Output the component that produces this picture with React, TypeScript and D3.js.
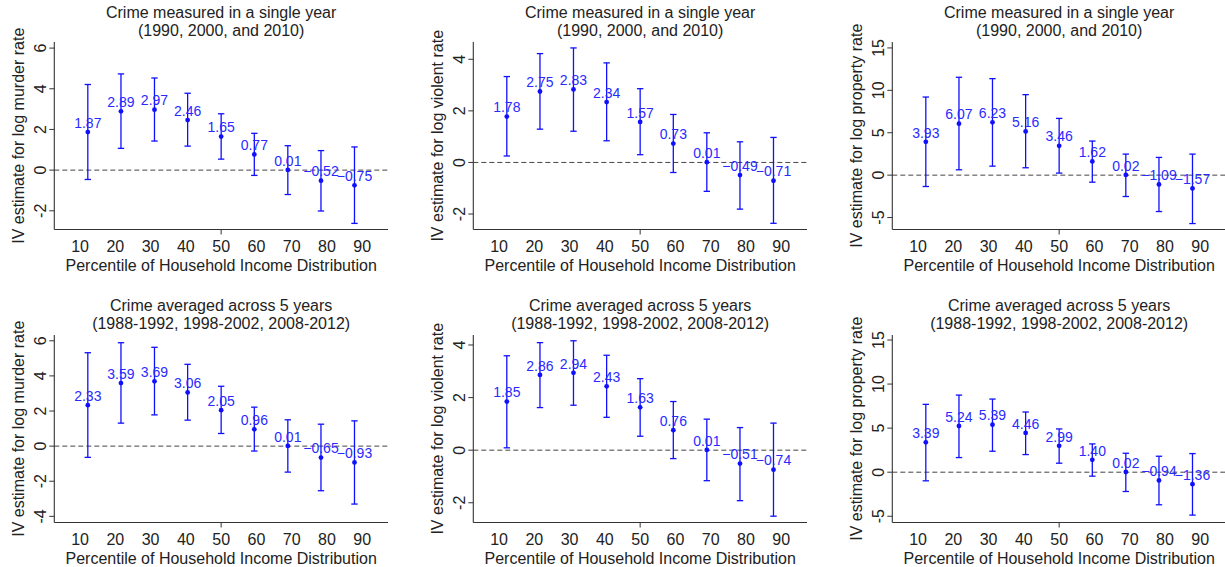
import React from "react";
import * as d3 from "d3";

// x positions of the nine estimates (percentile scale) and tick labels
const percentileTicks = [10, 20, 30, 40, 50, 60, 70, 80, 90];
const xPositions = [12.2, 21.6, 31.1, 40.5, 50, 59.4, 68.9, 78.3, 87.8];

// Row 1: crime measured in a single year
const murderSingleEst = [1.87, 2.89, 2.97, 2.46, 1.65, 0.77, 0.01, -0.52, -0.75];
const murderSingleLo = [-0.46, 1.07, 1.43, 1.18, 0.54, -0.26, -1.2, -2.01, -2.62];
const murderSingleHi = [4.21, 4.73, 4.53, 3.78, 2.77, 1.81, 1.2, 0.96, 1.14];

const violentSingleEst = [1.78, 2.75, 2.83, 2.34, 1.57, 0.73, 0.01, -0.49, -0.71];
const violentSingleLo = [0.25, 1.29, 1.21, 0.84, 0.3, -0.39, -1.12, -1.81, -2.36];
const violentSingleHi = [3.33, 4.22, 4.44, 3.86, 2.86, 1.86, 1.15, 0.8, 0.97];

const propertySingleEst = [3.93, 6.07, 6.23, 5.16, 3.46, 1.62, 0.02, -1.09, -1.57];
const propertySingleLo = [-1.34, 0.63, 1.06, 0.87, 0.24, -0.83, -2.52, -4.29, -5.71];
const propertySingleHi = [9.21, 11.54, 11.38, 9.49, 6.69, 4.02, 2.48, 2.09, 2.48];

// Row 2: crime averaged across 5 years
const murderAvgEst = [2.33, 3.59, 3.69, 3.06, 2.05, 0.96, 0.01, -0.65, -0.93];
const murderAvgLo = [-0.64, 1.31, 1.78, 1.48, 0.72, -0.28, -1.48, -2.54, -3.3];
const murderAvgHi = [5.32, 5.89, 5.63, 4.66, 3.41, 2.22, 1.5, 1.25, 1.44];

const violentAvgEst = [1.85, 2.86, 2.94, 2.43, 1.63, 0.76, 0.01, -0.51, -0.74];
const violentAvgLo = [0.09, 1.62, 1.71, 1.25, 0.53, -0.32, -1.16, -1.92, -2.51];
const violentAvgHi = [3.59, 4.09, 4.16, 3.61, 2.72, 1.85, 1.18, 0.86, 1.03];

const propertyAvgEst = [3.39, 5.24, 5.39, 4.46, 2.99, 1.4, 0.02, -0.94, -1.36];
const propertyAvgLo = [-0.98, 1.66, 2.38, 2.0, 1.02, -0.45, -2.19, -3.7, -4.87];
const propertyAvgHi = [7.7, 8.75, 8.3, 6.83, 4.91, 3.21, 2.15, 1.81, 2.11];

const titleSingle = ["Crime measured in a single year", "(1990, 2000, and 2010)"];
const titleAvg = ["Crime averaged across 5 years", "(1988-1992, 1998-2002, 2008-2012)"];
const xTitle = "Percentile of Household Income Distribution";

const ticksSmall = [-2, 0, 2, 4, 6];
const ticksViolent = [-2, 0, 2, 4];
const ticksProperty = [-5, 0, 5, 10, 15];
const ticksMurderAvg = [-4, -2, 0, 2, 4, 6];

const FONT = "'Liberation Sans', Arial, Helvetica, sans-serif";
const BLUE = "#1010ff";
const LABEL_BLUE = "#2a2aff";
const AXIS = "#333";

const PLOT_W = 333.7;
const PLOT_H = 187.5;

type PanelProps = {
  left: number;
  top: number;
  yDomain: [number, number];
  yTicks: number[];
  yLabel: string;
  title: string[];
  est: number[];
  lo: number[];
  hi: number[];
};

function Panel({ left, top, yDomain, yTicks, yLabel, title, est, lo, hi }: PanelProps) {
  const x = d3.scaleLinear().domain([2.7, 97.3]).range([0, PLOT_W]);
  const y = d3.scaleLinear().domain(yDomain).range([PLOT_H, 0]);
  const fmt = d3.format(".2f");
  const cap = 3.2;
  return (
    <g transform={`translate(${left},${top})`} fontFamily={FONT}>
      {/* title */}
      <text x={PLOT_W / 2} y={-23.7} textAnchor="middle" fontSize={16} fill="#222">
        {title[0]}
      </text>
      <text x={PLOT_W / 2} y={-6.5} textAnchor="middle" fontSize={16} fill="#222">
        {title[1]}
      </text>
      {/* zero line */}
      <line
        x1={0}
        x2={PLOT_W}
        y1={y(0)}
        y2={y(0)}
        stroke="#444"
        strokeWidth={1}
        strokeDasharray="5,3"
      />
      {/* y axis */}
      <line x1={0} x2={0} y1={0} y2={PLOT_H} stroke={AXIS} strokeWidth={1.1} />
      {yTicks.map((t) => (
        <g key={t}>
          <line x1={-5} x2={0} y1={y(t)} y2={y(t)} stroke={AXIS} strokeWidth={1} />
          <text
            transform={`translate(${-8.5},${y(t)}) rotate(-90)`}
            textAnchor="middle"
            fontSize={16}
            fill="#222"
          >
            {t}
          </text>
        </g>
      ))}
      <text
        transform={`translate(${-30},${PLOT_H / 2}) rotate(-90)`}
        textAnchor="middle"
        fontSize={16}
        fill="#222"
      >
        {yLabel}
      </text>
      {/* x axis */}
      <line x1={0} x2={PLOT_W} y1={PLOT_H} y2={PLOT_H} stroke={AXIS} strokeWidth={1.1} />
      <line x1={x(50)} x2={x(50)} y1={PLOT_H} y2={PLOT_H + 5} stroke={AXIS} strokeWidth={1} />
      {percentileTicks.map((t) => (
        <text key={t} x={x(t)} y={PLOT_H + 22.8} textAnchor="middle" fontSize={16} fill="#222">
          {t}
        </text>
      ))}
      <text x={PLOT_W / 2} y={PLOT_H + 41} textAnchor="middle" fontSize={16} fill="#222">
        {xTitle}
      </text>
      {/* estimates with CIs */}
      {est.map((v, i) => {
        const cx = x(xPositions[i]);
        return (
          <g key={i}>
            <line x1={cx} x2={cx} y1={y(lo[i])} y2={y(hi[i])} stroke={BLUE} strokeWidth={1.3} />
            <line x1={cx - cap} x2={cx + cap} y1={y(lo[i])} y2={y(lo[i])} stroke={BLUE} strokeWidth={1.3} />
            <line x1={cx - cap} x2={cx + cap} y1={y(hi[i])} y2={y(hi[i])} stroke={BLUE} strokeWidth={1.3} />
            <circle cx={cx} cy={y(v)} r={2.4} fill={BLUE} />
            <text x={cx} y={y(v) - 4.3} textAnchor="middle" fontSize={14} fill={LABEL_BLUE}>
              {fmt(v)}
            </text>
          </g>
        );
      })}
    </g>
  );
}

export default function App() {
  const topRow = 42;
  const botRow = 335;
  const lefts = [54.3, 473.3, 892.3];
  return (
    <svg
      width={1225}
      height={567}
      style={{ position: "absolute", left: 0, top: 0, background: "#fff" }}
    >
      <rect width={1225} height={567} fill="#fff" />
      <Panel
        left={lefts[0]}
        top={topRow}
        yDomain={[-2.92, 6.3]}
        yTicks={ticksSmall}
        yLabel="IV estimate for log murder rate"
        title={titleSingle}
        est={murderSingleEst}
        lo={murderSingleLo}
        hi={murderSingleHi}
      />
      <Panel
        left={lefts[1]}
        top={topRow}
        yDomain={[-2.6, 4.67]}
        yTicks={ticksViolent}
        yLabel="IV estimate for log violent rate"
        title={titleSingle}
        est={violentSingleEst}
        lo={violentSingleLo}
        hi={violentSingleHi}
      />
      <Panel
        left={lefts[2]}
        top={topRow}
        yDomain={[-6.41, 15.7]}
        yTicks={ticksProperty}
        yLabel="IV estimate for log property rate"
        title={titleSingle}
        est={propertySingleEst}
        lo={propertySingleLo}
        hi={propertySingleHi}
      />
      <Panel
        left={lefts[0]}
        top={botRow}
        yDomain={[-4.35, 6.33]}
        yTicks={ticksMurderAvg}
        yLabel="IV estimate for log murder rate"
        title={titleAvg}
        est={murderAvgEst}
        lo={murderAvgLo}
        hi={murderAvgHi}
      />
      <Panel
        left={lefts[1]}
        top={botRow}
        yDomain={[-2.75, 4.38]}
        yTicks={ticksViolent}
        yLabel="IV estimate for log violent rate"
        title={titleAvg}
        est={violentAvgEst}
        lo={violentAvgLo}
        hi={violentAvgHi}
      />
      <Panel
        left={lefts[2]}
        top={botRow}
        yDomain={[-5.71, 15.57]}
        yTicks={ticksProperty}
        yLabel="IV estimate for log property rate"
        title={titleAvg}
        est={propertyAvgEst}
        lo={propertyAvgLo}
        hi={propertyAvgHi}
      />
    </svg>
  );
}
